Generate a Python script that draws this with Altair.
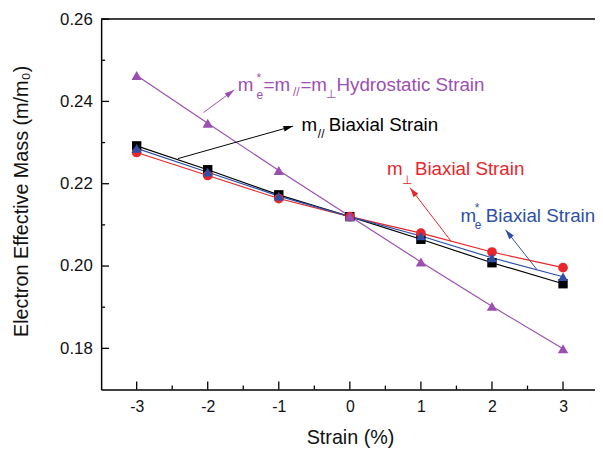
import altair as alt
import pandas as pd
import numpy as np

# ---------------- data ----------------
strain = [-3, -2, -1, 0, 1, 2, 3]
m_par_biaxial = [0.2292, 0.2234, 0.2173, 0.2120, 0.2065, 0.2008, 0.1957]
m_perp_biaxial = [0.2276, 0.2220, 0.2164, 0.2120, 0.2080, 0.2034, 0.1996]
m_eff_biaxial = [0.2286, 0.2228, 0.2170, 0.2120, 0.2073, 0.2020, 0.1974]
m_hydro = [0.2463, 0.2347, 0.2232, 0.2121, 0.2010, 0.1902, 0.1799]

series_names = ["par", "perp", "eff", "hydro"]
series_colors = ["#000000", "#E8262B", "#2E4FA6", "#9B4FB0"]
series_shapes = ["square", "circle", "triangle-up", "triangle-up"]
series_sizes = [90, 110, 160, 200]

x_ticks_major = [-3, -2, -1, 0, 1, 2, 3]
x_ticks_minor = [-2.5, -1.5, -0.5, 0.5, 1.5, 2.5]
y_ticks_major = [0.18, 0.20, 0.22, 0.24, 0.26]
y_ticks_minor = [0.19, 0.21, 0.23, 0.25]

# annotation text pieces (data coordinates of left/baseline anchor)
ann_text = ["m", "*", "e", "=m", "//", "=m", "\u22a5", "Hydrostatic Strain",
            "m", "//", "Biaxial Strain",
            "m", "\u22a5", "Biaxial Strain",
            "m", "*", "e", "Biaxial Strain"]
ann_x = [-1.576, -1.315, -1.315, -1.215, -0.801, -0.696, -0.335, -0.188,
         -0.682, -0.450, -0.297,
         0.523, 0.736, 0.916,
         1.556, 1.757, 1.757, 1.913]
ann_y = [0.2425, 0.2448, 0.2407, 0.2425, 0.2414, 0.2425, 0.2409, 0.2425,
         0.2328, 0.2312, 0.2328,
         0.2220, 0.2200, 0.2220,
         0.2107, 0.2131, 0.2089, 0.2107]
ann_role = ["main", "sub", "sub", "main", "sub", "main", "sub", "main",
            "main", "sub", "main",
            "main", "sub", "main",
            "main", "sub", "sub", "main"]
ann_series = ["hydro"] * 8 + ["par"] * 3 + ["perp"] * 3 + ["eff"] * 4

# arrows: from (x1,y1) to tip (x2,y2)
arrow_series = ["hydro", "par", "perp", "eff"]
arrow_x1 = [-2.059, -2.420, 1.426, 2.630]
arrow_y1 = [0.2373, 0.2261, 0.2060, 0.1992]
arrow_x2 = [-1.628, -0.798, 0.847, 2.191]
arrow_y2 = [0.2428, 0.2340, 0.2190, 0.2088]

# ---------------- geometry ----------------
W, H = 500, 375
XDOM = [-3.5, 3.45]
YDOM = [0.17, 0.26]
FONT = "Liberation Sans"

color_of = dict(zip(series_names, series_colors))

rows = []
for name, vals in zip(series_names, [m_par_biaxial, m_perp_biaxial, m_eff_biaxial, m_hydro]):
    for s, v in zip(strain, vals):
        rows.append({"strain": s, "mass": v, "series": name})
df = pd.DataFrame(rows)

xscale = alt.Scale(domain=XDOM, nice=False, zero=False)
yscale = alt.Scale(domain=YDOM, nice=False, zero=False)

x_axis = alt.Axis(values=x_ticks_major, labelExpr="'' + datum.value", ticks=False, grid=False,
                  domainColor="#000", domainWidth=1.5, labelFont=FONT, labelFontSize=16,
                  labelColor="#111", labelPadding=9, title="Strain (%)", titleFont=FONT,
                  titleFontSize=20, titleFontWeight="normal", titleColor="#111",
                  titleX=252, titleY=54.5, titleBaseline="alphabetic", titleAlign="center")
y_axis = alt.Axis(values=y_ticks_major, format=".2f", ticks=False, grid=False,
                  domainColor="#000", domainWidth=1.5, labelFont=FONT, labelFontSize=17,
                  labelColor="#111", labelPadding=9, title="Electron Effective Mass (m/m\u2080)",
                  titleFont=FONT, titleFontSize=20, titleFontWeight="normal", titleColor="#111",
                  titleX=-75, titleY=184, titleAngle=270, titleBaseline="alphabetic",
                  titleAlign="center")


def X(field):
    return alt.X(field, scale=xscale, axis=x_axis)


def Y(field):
    return alt.Y(field, scale=yscale, axis=y_axis)


color_enc = alt.Color("series:N", scale=alt.Scale(domain=series_names, range=series_colors), legend=None)

lines = alt.Chart(df).mark_line(strokeWidth=1.2).encode(
    x=X("strain:Q"), y=Y("mass:Q"), color=color_enc,
)

points = alt.Chart(df).mark_point(filled=True, opacity=1, strokeWidth=0).encode(
    x=X("strain:Q"), y=Y("mass:Q"),
    color=color_enc,
    shape=alt.Shape("series:N", scale=alt.Scale(domain=series_names, range=series_shapes), legend=None),
    size=alt.Size("series:N", scale=alt.Scale(domain=series_names, range=series_sizes), legend=None),
)

# arrows
kx = W / (XDOM[1] - XDOM[0])
ky = H / (YDOM[1] - YDOM[0])
adf = pd.DataFrame({"series": arrow_series, "x1": arrow_x1, "y1": arrow_y1,
                    "x2": arrow_x2, "y2": arrow_y2})
dxp = (adf["x2"] - adf["x1"]) * kx
dyp = -(adf["y2"] - adf["y1"]) * ky
adf["angle"] = (np.degrees(np.arctan2(dxp, -dyp)) + 360) % 360
adf["col"] = adf["series"].map(color_of)

arrow_lines = alt.Chart(adf).mark_rule(strokeWidth=1).encode(
    x=X("x1:Q"), y=Y("y1:Q"),
    x2="x2:Q", y2="y2:Q", color=alt.Color("col:N", scale=None),
)
arrow_heads = alt.Chart(adf).mark_point(
    shape="M0,0L-0.3,1L0.3,1Z", filled=True, opacity=1, strokeWidth=0, size=380
).encode(
    x=X("x2:Q"), y=Y("y2:Q"),
    angle=alt.Angle("angle:Q", scale=None), color=alt.Color("col:N", scale=None),
)

tdf = pd.DataFrame({"text": ann_text, "x": ann_x, "y": ann_y, "role": ann_role, "series": ann_series})
tdf["fs"] = tdf["role"].map({"main": 19, "sub": 12})
tdf["col"] = tdf["series"].map(color_of)
texts = alt.Chart(tdf).mark_text(align="left", baseline="alphabetic", font=FONT).encode(
    x=X("x:Q"), y=Y("y:Q"),
    text="text:N", size=alt.Size("fs:Q", scale=None), color=alt.Color("col:N", scale=None),
)

# inside ticks and top frame
xt_major = pd.DataFrame({"v": x_ticks_major})
xt_minor = pd.DataFrame({"v": x_ticks_minor})
x_tick_marks = alt.Chart(xt_major).mark_rule(color="#000", strokeWidth=1.3).encode(
    x=X("v:Q"), y=alt.value(H), y2=alt.value(H - 8)
) + alt.Chart(xt_minor).mark_rule(color="#000", strokeWidth=1.3).encode(
    x=X("v:Q"), y=alt.value(H), y2=alt.value(H - 4)
)

yt_major = pd.DataFrame({"v": y_ticks_major})
yt_minor = pd.DataFrame({"v": y_ticks_minor})
y_tick_marks = alt.Chart(yt_major).mark_rule(color="#000", strokeWidth=1.3).encode(
    y=Y("v:Q"), x=alt.value(0), x2=alt.value(8)
) + alt.Chart(yt_minor).mark_rule(color="#000", strokeWidth=1.3).encode(
    y=Y("v:Q"), x=alt.value(0), x2=alt.value(4)
)

top_frame = alt.Chart(pd.DataFrame({"v": [YDOM[1]]})).mark_rule(color="#000", strokeWidth=1.5).encode(
    y=Y("v:Q"), x=alt.value(0), x2=alt.value(W)
)

chart = alt.layer(
    lines, points, arrow_lines, arrow_heads, texts, x_tick_marks, y_tick_marks, top_frame
).properties(
    width=W, height=H,
    autosize=alt.AutoSizeParams(type="none"),
    padding={"left": 94.3, "top": 8.5, "right": 0, "bottom": 57.5},
    background="white",
).configure_view(stroke=None)

chart.save("out.html", embed_options={"renderer": "svg", "actions": False})
